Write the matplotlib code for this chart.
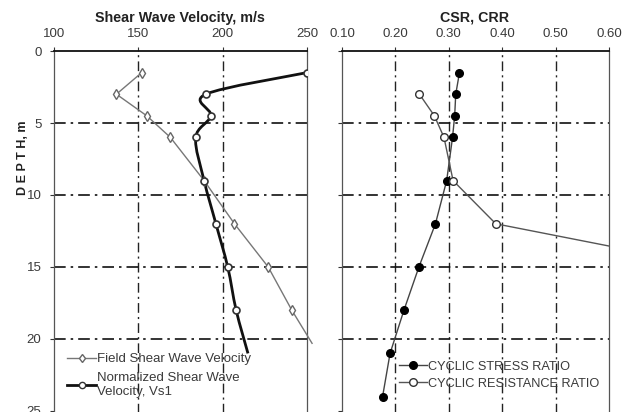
import matplotlib
matplotlib.use('Agg')
import matplotlib.pyplot as plt
import numpy as np
from matplotlib.path import Path
from matplotlib.patches import PathPatch
from matplotlib.lines import Line2D

plt.rcParams['font.family'] = ['Liberation Sans', 'DejaVu Sans']

# shear wave velocity profile (m/s) vs depth (m)
depth_vs = [1.5, 3, 4.5, 6, 9, 12, 15, 18]
field_vs = [152, 137, 155, 169, 189, 207, 227, 241]
field_end = (20.3, 253)
norm_vs1 = [250, 190, 193, 184, 189, 196, 203, 208]
norm_end = (21, 215)

# cyclic stress / resistance ratio vs depth
depth_csr = [1.5, 3, 4.5, 6, 9, 12, 15, 18, 21, 24]
csr = [0.32, 0.313, 0.311, 0.307, 0.296, 0.275, 0.244, 0.216, 0.190, 0.176]
depth_crr = [3, 4.5, 6, 9, 12, 15]
crr = [0.245, 0.273, 0.291, 0.308, 0.388, 0.80]

depth_ticks = [0, 5, 10, 15, 20, 25]
vs_ticks = [100, 150, 200, 250]
ratio_ticks = [0.10, 0.20, 0.30, 0.40, 0.50, 0.60]

txt = '#3a3a3a'
W, H = 643, 412
fig = plt.figure(figsize=(W / 100, H / 100), dpi=100)

top = 1 - 51 / H
ymax = 27
bottom = 1 - (51 + ymax * 14.4) / H
ax1 = fig.add_axes([54 / W, bottom, (307 - 54) / W, top - bottom])
ax2 = fig.add_axes([342 / W, bottom, (609 - 342) / W, top - bottom])


def style(ax, xlim, xticks, fmt, labels_y):
  ax.set_xlim(*xlim)
  ax.set_ylim(ymax, 0)
  ax.xaxis.tick_top()
  ax.set_xticks(xticks)
  ax.set_xticklabels([fmt % t for t in xticks])
  ax.set_yticks(depth_ticks)
  if not labels_y:
    ax.set_yticklabels([])
  ax.tick_params(axis='x', direction='out', length=3, pad=5, labelsize=9.5,
                 labelcolor=txt, color='#333')
  ax.tick_params(axis='y', direction='out', length=3, pad=6, labelsize=9.5,
                 labelcolor=txt, color='#333')
  for s in ['left', 'right', 'bottom']:
    ax.spines[s].set_color('#555')
    ax.spines[s].set_linewidth(0.9)
  ax.spines['top'].set_color('#111')
  ax.spines['top'].set_linewidth(1.3)
  # dash-dot grid
  for t in xticks[1:-1]:
    ax.axvline(t, color='#222', lw=1.0, ls=(0, (7, 3, 1.5, 3)), zorder=1)
  for d in depth_ticks[1:-1]:
    ax.axhline(d, color='#111', lw=1.2, ls=(0, (7, 3, 1.5, 3)), zorder=1)


style(ax1, (100, 250), vs_ticks, '%d', True)
style(ax2, (0.10, 0.60), ratio_ticks, '%.2f', False)


def smooth_path(xs, ys):
  # excel-like smoothed line drawn as cubic bezier segments
  pts = np.column_stack([xs, ys]).astype(float)
  n = len(pts)
  verts = [pts[0]]
  codes = [Path.MOVETO]
  for i in range(n - 1):
    p0 = pts[i - 1] if i > 0 else pts[i]
    p1, p2 = pts[i], pts[i + 1]
    p3 = pts[i + 2] if i + 2 < n else pts[i + 1]
    verts += [p1 + (p2 - p0) / 6, p2 - (p3 - p1) / 6, p2]
    codes += [Path.CURVE4] * 3
  return Path(verts, codes)


# left panel
ax1.plot(field_vs + [field_end[1]], depth_vs + [field_end[0]], color='#777',
         lw=1.0, zorder=3, clip_on=False)
ax1.plot(field_vs, depth_vs, ls='none', marker='d', ms=5, mfc='white',
         mec='#666', mew=1.0, zorder=4)
ax1.add_patch(PathPatch(smooth_path(norm_vs1 + [norm_end[1]], depth_vs + [norm_end[0]]),
                        fc='none', ec='#111', lw=2.0, zorder=3))
ax1.plot(norm_vs1, depth_vs, ls='none', marker='o', ms=5, mfc='white',
         mec='#333', mew=1.2, zorder=4)

h1 = [Line2D([], [], color='#777', lw=1.0, marker='d', ms=4.5, mfc='white', mec='#666'),
      Line2D([], [], color='#111', lw=2.0, marker='o', ms=4.5, mfc='white', mec='#333')]
ax1.legend(h1, ['Field Shear Wave Velocity', 'Normalized Shear Wave\nVelocity, Vs1'],
           loc='upper left', bbox_to_anchor=(0.01, 0.25), frameon=False,
           fontsize=9.5, labelcolor=txt, handlelength=2.2, handletextpad=0.1,
           labelspacing=0.5, borderpad=0.3)

# right panel
ax2.plot(csr, depth_csr, color='#444', lw=1.0, marker='o', ms=5.5, mfc='black',
         mec='black', zorder=4)
ax2.plot(crr, depth_crr, color='#555', lw=1.0, marker='o', ms=5.5, mfc='white',
         mec='#333', mew=1.0, zorder=4)

h2 = [Line2D([], [], color='#444', lw=1.0, marker='o', ms=5.5, mfc='black', mec='black'),
      Line2D([], [], color='#555', lw=1.0, marker='o', ms=5.5, mfc='white', mec='#333')]
ax2.legend(h2, ['CYCLIC STRESS RATIO', 'CYCLIC RESISTANCE RATIO'],
           loc='upper left', bbox_to_anchor=(0.175, 0.23), frameon=False,
           fontsize=9.2, labelcolor=txt, handlelength=2.2, handletextpad=0.1,
           labelspacing=0.4, borderpad=0.3)

fig.text(180 / W, 1 - 18 / H, 'Shear Wave Velocity, m/s', ha='center', va='center',
         fontsize=10.3, fontweight='bold', color='#222')
fig.text(475 / W, 1 - 18 / H, 'CSR, CRR', ha='center', va='center',
         fontsize=10.3, fontweight='bold', color='#222')
fig.text(23 / W, 1 - 158 / H, 'D E P T H, m', ha='center', va='center', rotation=90,
         fontsize=9, fontweight='bold', color='#222')

fig.savefig('out.png', dpi=100)
